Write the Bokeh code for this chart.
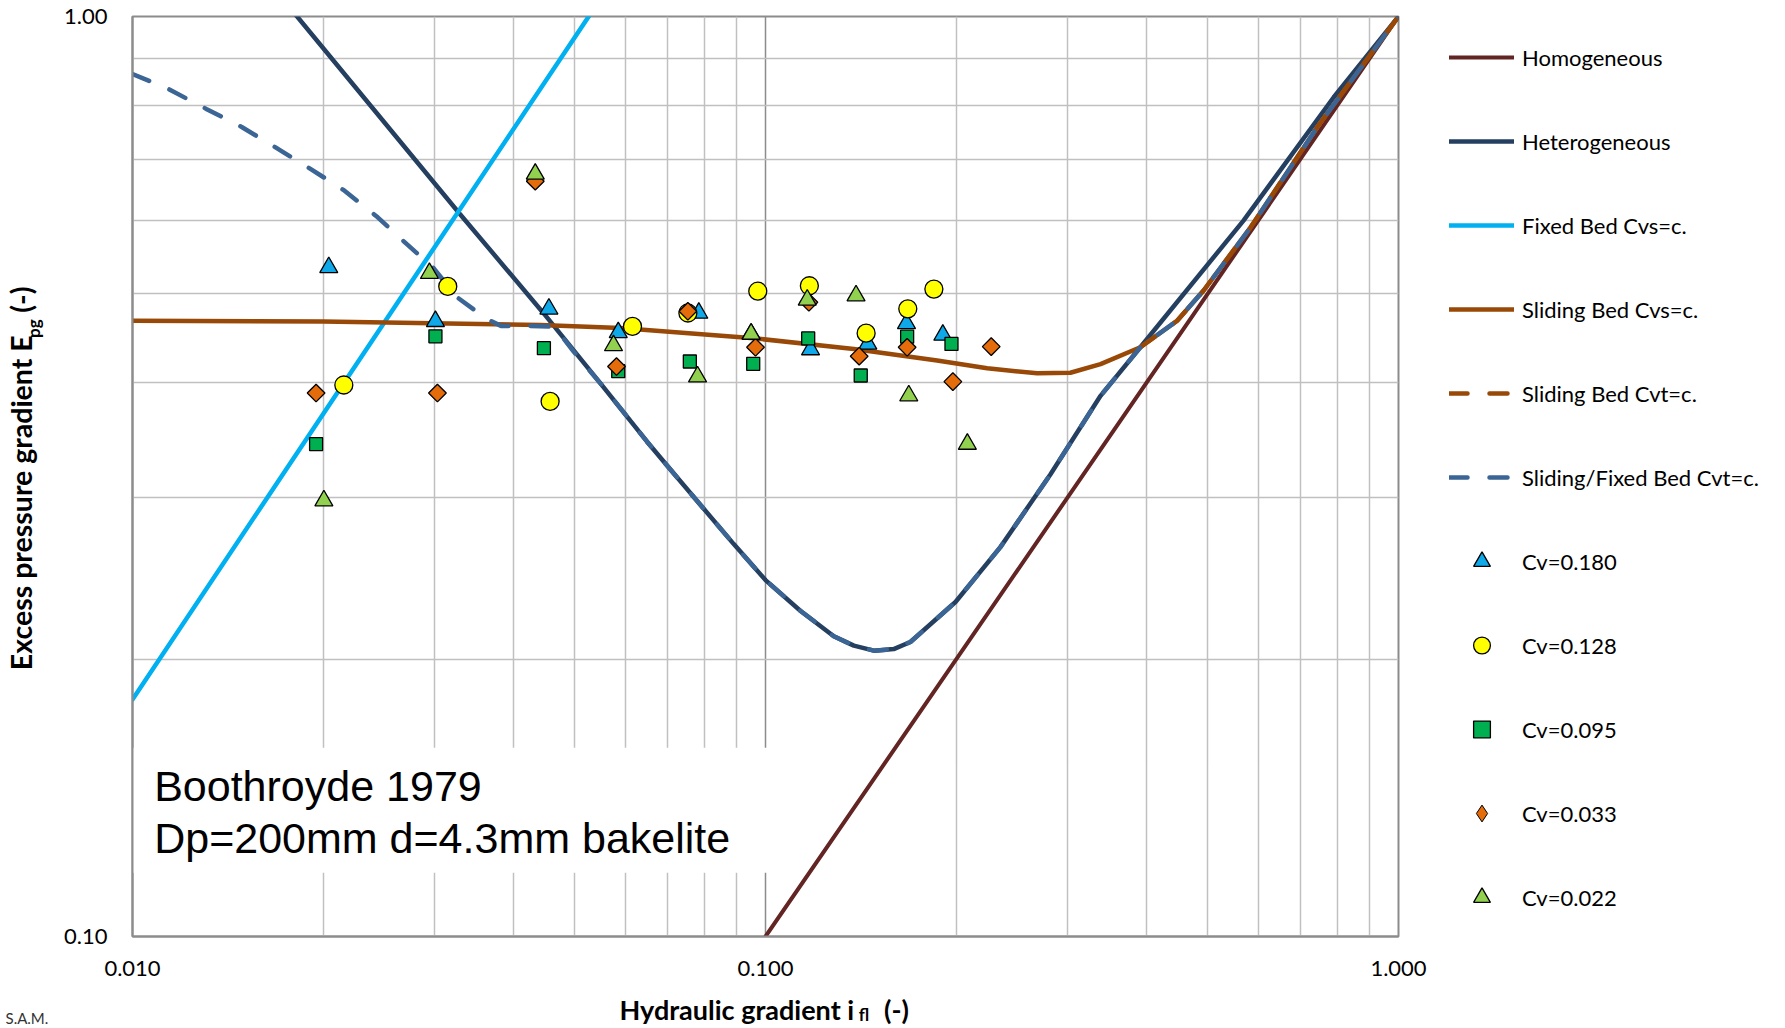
import math
from bokeh.plotting import figure
from bokeh.models import (Range1d, FixedTicker, PrintfTickFormatter, Legend,
                          LegendItem, Label, BoxAnnotation, LogAxis, Title)
from bokeh.embed import file_html
from bokeh.resources import INLINE

# ---------------- model curves (hydraulic gradient i, excess pressure gradient E)
homog_i = [0.100, 1.000]
homog_E = [0.100, 1.000]

hetero_i = [0.0150, 0.0182, 0.0329, 0.0447, 0.0549, 0.0650, 0.0699, 0.0891, 0.1000,
            0.1135, 0.1282, 0.1379, 0.1483, 0.1594, 0.1694, 0.1996, 0.2350, 0.2820,
            0.3383, 0.3910, 0.5690, 0.7900, 1.0000]
hetero_E = [1.170, 1.000, 0.610, 0.475, 0.399, 0.345, 0.325, 0.267, 0.244,
            0.226, 0.212, 0.2071, 0.2045, 0.2053, 0.209, 0.231, 0.265, 0.318,
            0.387, 0.437, 0.600, 0.817, 1.000]

fixed_i = [0.0100, 0.0600]
fixed_E = [0.181, 1.146]

slide_cvs_i = [0.0100, 0.0200, 0.0441, 0.0590, 0.0958, 0.1379, 0.1867, 0.2240, 0.2686,
               0.3032, 0.3383, 0.3910, 0.4470, 0.4925, 0.5840, 0.7440, 1.0000]
slide_cvs_E = [0.467, 0.466, 0.462, 0.4586, 0.447, 0.435, 0.4227, 0.4146, 0.4094,
               0.410, 0.419, 0.437, 0.467, 0.504, 0.590, 0.758, 1.000]

slide_cvt_i = [0.3910, 0.4470, 0.4925, 0.5840, 0.7440, 1.0000]
slide_cvt_E = [0.437, 0.467, 0.504, 0.590, 0.758, 1.000]

slidefix_i = [0.0100, 0.0114, 0.0131, 0.0149, 0.0168, 0.0191, 0.0216, 0.0244, 0.0271,
              0.0298, 0.0326, 0.0363, 0.0382, 0.0420, 0.0464, 0.0498, 0.0549, 0.0650,
              0.0699, 0.0891, 0.1000, 0.1135, 0.1282, 0.1379, 0.1483, 0.1594, 0.1694,
              0.1996, 0.2350, 0.2820, 0.3383, 0.3910, 0.4470, 0.4925, 0.5840, 0.7440,
              1.0000]
slidefix_E = [0.866, 0.834, 0.793, 0.758, 0.721, 0.683, 0.647, 0.605, 0.566,
              0.534, 0.495, 0.469, 0.461, 0.461, 0.460, 0.432, 0.399, 0.345,
              0.325, 0.267, 0.244, 0.226, 0.212, 0.2071, 0.2045, 0.2053, 0.209,
              0.231, 0.265, 0.318, 0.387, 0.437, 0.467, 0.504, 0.590, 0.758,
              1.000]

# ---------------- measurements (Boothroyde 1979)
cv180_i = [0.02042, 0.03010, 0.04548, 0.05853, 0.07846, 0.09490, 0.1178, 0.1451, 0.1670, 0.1906]
cv180_E = [0.5337, 0.4663, 0.4811, 0.4535, 0.4761, 0.4519, 0.4345, 0.4407, 0.4639, 0.4506]

cv128_i = [0.02157, 0.03148, 0.04568, 0.06164, 0.07540, 0.09723, 0.1173, 0.1442, 0.1678, 0.1845]
cv128_E = [0.3976, 0.5089, 0.3816, 0.4604, 0.4761, 0.5028, 0.5097, 0.4527, 0.4811, 0.5055]

cv095_i = [0.01950, 0.03010, 0.04466, 0.05853, 0.07594, 0.09563, 0.1168, 0.1414, 0.1674, 0.1967]
cv095_E = [0.3430, 0.4491, 0.4360, 0.4116, 0.4217, 0.4192, 0.4468, 0.4072, 0.4487, 0.4407]

cv033_i = [0.01950, 0.03032, 0.04328, 0.05816, 0.07540, 0.09643, 0.1171, 0.1406, 0.1674, 0.1977, 0.2273]
cv033_E = [0.3897, 0.3897, 0.6622, 0.4164, 0.4782, 0.4370, 0.4891, 0.4273, 0.4370, 0.4010, 0.4377]

cv022_i = [0.02006, 0.02945, 0.04328, 0.05753, 0.07810, 0.09490, 0.1164, 0.1390, 0.1684, 0.2084]
cv022_E = [0.2977, 0.5259, 0.6743, 0.4389, 0.4060, 0.4519, 0.4920, 0.4973, 0.3872, 0.3430]

x_major = [0.01, 0.1, 1.0]
x_minor = [0.02, 0.03, 0.04, 0.05, 0.06, 0.07, 0.08, 0.09,
           0.2, 0.3, 0.4, 0.5, 0.6, 0.7, 0.8, 0.9]
y_major = [0.1, 1.0]
y_minor = [0.2, 0.3, 0.4, 0.5, 0.6, 0.7, 0.8, 0.9]

# axis-title pieces, placed along the axes (value where each piece is centred)
xtitle_pos = [0.0901, 0.1610]
xtitle_txt = ["Hydraulic gradient i", "(-)"]
xsub_pos = [0.1430]
xsub_txt = ["fl"]
ytitle_pos = [0.2961, 0.4923]
ytitle_txt = ["Excess pressure gradient E", "(-)"]
ysub_pos = [0.4579]
ysub_txt = ["pg"]

# ---------------- figure
p = figure(frame_width=1266, frame_height=920, x_axis_type="log", y_axis_type="log",
           x_range=Range1d(0.01, 1.0), y_range=Range1d(0.1, 1.0),
           output_backend="svg", toolbar_location=None,
           min_border_left=132, min_border_right=372,
           min_border_top=16, min_border_bottom=92)
p.background_fill_color = "white"
p.border_fill_color = "white"
p.outline_line_color = "#8C8C8C"
p.outline_line_width = 2

xax = p.xaxis[0]
yax = p.yaxis[0]
xax.ticker = FixedTicker(ticks=x_major, minor_ticks=x_minor)
yax.ticker = FixedTicker(ticks=y_major, minor_ticks=y_minor)
xax.formatter = PrintfTickFormatter(format="%.3f")
yax.formatter = PrintfTickFormatter(format="%.2f")
for ax in (xax, yax):
    ax.major_tick_line_color = None
    ax.minor_tick_line_color = None
    ax.major_tick_out = 0
    ax.major_tick_in = 0
    ax.minor_tick_out = 0
    ax.minor_tick_in = 0
    ax.axis_line_color = "#8C8C8C"
    ax.axis_line_width = 2
    ax.major_label_text_font = "Lato"
    ax.major_label_text_font_size = "22px"
    ax.major_label_text_color = "black"
xax.major_label_standoff = 24
yax.major_label_standoff = 25

p.xgrid.grid_line_color = "#8C8C8C"
p.xgrid.grid_line_width = 1.5
p.xgrid.minor_grid_line_color = "#C0C0C0"
p.xgrid.minor_grid_line_width = 1.5
p.ygrid.grid_line_color = "#8C8C8C"
p.ygrid.grid_line_width = 1.5
p.ygrid.minor_grid_line_color = "#C0C0C0"
p.ygrid.minor_grid_line_width = 1.5


def title_axis(ticks, texts, size, standoff, vertical=False):
    ax = LogAxis(ticker=FixedTicker(ticks=ticks),
                 major_label_overrides=dict(zip(ticks, texts)),
                 axis_line_color=None, major_tick_line_color=None,
                 minor_tick_line_color=None, major_tick_out=0, major_tick_in=0,
                 minor_tick_out=0, minor_tick_in=0,
                 major_label_standoff=standoff,
                 major_label_text_font="Lato", major_label_text_font_style="bold",
                 major_label_text_font_size=size, major_label_text_color="black")
    if vertical:
        ax.major_label_orientation = "vertical"
    return ax


p.add_layout(title_axis(xtitle_pos, xtitle_txt, "27px", 14), "below")
p.add_layout(title_axis(xsub_pos, xsub_txt, "17px", -25), "below")
p.add_layout(title_axis(ysub_pos, ysub_txt, "17px", 17, vertical=True), "left")
p.add_layout(title_axis(ytitle_pos, ytitle_txt, "28.5px", -18, vertical=True), "left")

p.add_layout(Title(text="S.A.M.", align="left", offset=-127, standoff=-40,
                   vertical_align="top", text_font="Lato", text_font_size="15px",
                   text_font_style="normal", text_color="#333333"), "below")

# white text box covering the grid behind the annotation
box = BoxAnnotation(left=0.01, right=0.104, bottom=0.1173, top=0.1604,
                    fill_color="white", fill_alpha=1.0, line_color=None,
                    level="underlay")
p.add_layout(box)

# ---------------- lines
r_hom = p.line(homog_i, homog_E, line_color="#632523", line_width=4, line_cap="round")
r_het = p.line(hetero_i, hetero_E, line_color="#243F60", line_width=4.5, line_cap="round")
r_fix = p.line(fixed_i, fixed_E, line_color="#00B0F0", line_width=4.5, line_cap="round")
r_scs = p.line(slide_cvs_i, slide_cvs_E, line_color="#984807", line_width=4.5, line_cap="round")
r_sct = p.line(slide_cvt_i, slide_cvt_E, line_color="#984807", line_width=4.5,
               line_dash="18 22", line_cap="round")
r_sfc = p.line(slidefix_i, slidefix_E, line_color="#3A6595", line_width=4.5,
               line_dash="18 22", line_cap="round")

# ---------------- markers
mk = dict(line_color="black", line_width=1.3)
r_180 = p.scatter(cv180_i, cv180_E, marker="triangle", size=18, fill_color="#0FA8E8", **mk)
r_128 = p.scatter(cv128_i, cv128_E, marker="circle", size=18, fill_color="#FFFF00", **mk)
r_095 = p.scatter(cv095_i, cv095_E, marker="square", size=13, fill_color="#00B050", **mk)
# diamond key for the legend (tiny, hidden under the rotated squares drawn next)
r_033_key = p.scatter(cv033_i, cv033_E, marker="diamond", size=1, fill_color="#E46C0A",
                      line_color="black", line_width=1.0)
r_033 = p.scatter(cv033_i, cv033_E, marker="square", size=12.5, angle=math.pi / 4,
                  fill_color="#E46C0A", **mk)
r_022 = p.scatter(cv022_i, cv022_E, marker="triangle", size=18, fill_color="#92D050", **mk)

legend = Legend(items=[
    LegendItem(label="Homogeneous", renderers=[r_hom]),
    LegendItem(label="Heterogeneous", renderers=[r_het]),
    LegendItem(label="Fixed Bed Cvs=c.", renderers=[r_fix]),
    LegendItem(label="Sliding Bed Cvs=c.", renderers=[r_scs]),
    LegendItem(label="Sliding Bed Cvt=c.", renderers=[r_sct]),
    LegendItem(label="Sliding/Fixed Bed Cvt=c.", renderers=[r_sfc]),
    LegendItem(label="Cv=0.180", renderers=[r_180]),
    LegendItem(label="Cv=0.128", renderers=[r_128]),
    LegendItem(label="Cv=0.095", renderers=[r_095]),
    LegendItem(label="Cv=0.033", renderers=[r_033_key]),
    LegendItem(label="Cv=0.022", renderers=[r_022]),
], location=(51, 18))
legend.padding = 0
legend.margin = 0
legend.spacing = 42
legend.glyph_height = 42
legend.glyph_width = 65
legend.label_standoff = 8
legend.label_text_font = "Lato"
legend.label_text_font_size = "22px"
legend.label_text_color = "black"
legend.border_line_color = None
legend.background_fill_alpha = 0
p.add_layout(legend, "right")

# ---------------- annotation text
p.add_layout(Label(x=0.01082, y=0.1457, text="Boothroyde 1979",
                   text_font="Liberation Sans", text_font_size="43px",
                   text_color="black", text_baseline="alphabetic"))
p.add_layout(Label(x=0.01082, y=0.1279, text="Dp=200mm d=4.3mm bakelite",
                   text_font="Liberation Sans", text_font_size="43px",
                   text_color="black", text_baseline="alphabetic"))

open("out.html", "w").write(file_html(p, INLINE))
